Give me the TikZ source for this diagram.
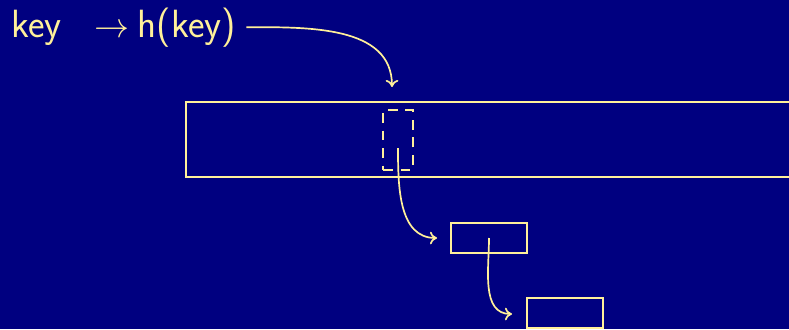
\documentclass[tikz,border=0pt]{standalone}
\usepackage{tikz}
\usetikzlibrary{arrows.meta}
\definecolor{navy}{HTML}{000080}
\definecolor{chalk}{HTML}{FFF09A}
\tikzset{
  cell/.style={draw=chalk, line width=1.2pt, inner sep=0pt},
  link/.style={draw=chalk, line width=1.2pt, -{To[length=5pt, width=9pt]}},
}
\begin{document}
\begin{tikzpicture}[x=0.025cm, y=-0.025cm, every node/.style={font=\sffamily\fontsize{28}{33}\selectfont, text=chalk}]
  \fill[navy] (0,0) rectangle (789,329);
  \clip (0,0) rectangle (789,329);
  \node[anchor=base west, inner sep=0pt] (key) at (11,37) {key};
  \node[anchor=base west, inner sep=0pt] (hkey) at (94,37) {$\rightarrow$\hspace{6pt}h(key)};
  \node[cell, minimum width=15.6cm, minimum height=1.875cm] (table) at (498,139.5) {};
  \node[cell, dash pattern=on 7pt off 5.5pt, minimum width=0.75cm, minimum height=1.5cm] (slot) at (398,140) {};
  \node[cell, minimum width=1.9cm, minimum height=0.75cm] (first) at (489,238) {};
  \node[cell, minimum width=1.9cm, minimum height=0.75cm] (second) at (565,313) {};
  \coordinate (hit) at (392,87);
  \coordinate (start) at (398,148);
  \coordinate (near1) at (437,238);
  \coordinate (near2) at (512,314);
  \draw[link] ([xshift=0.25cm]hkey.east) to[out=0, in=90] (hit);
  \draw[link] (start) to[out=-90, in=180] (near1);
  \draw[link] (first.center) to[out=-90, in=180] (near2);
\end{tikzpicture}
\end{document}
